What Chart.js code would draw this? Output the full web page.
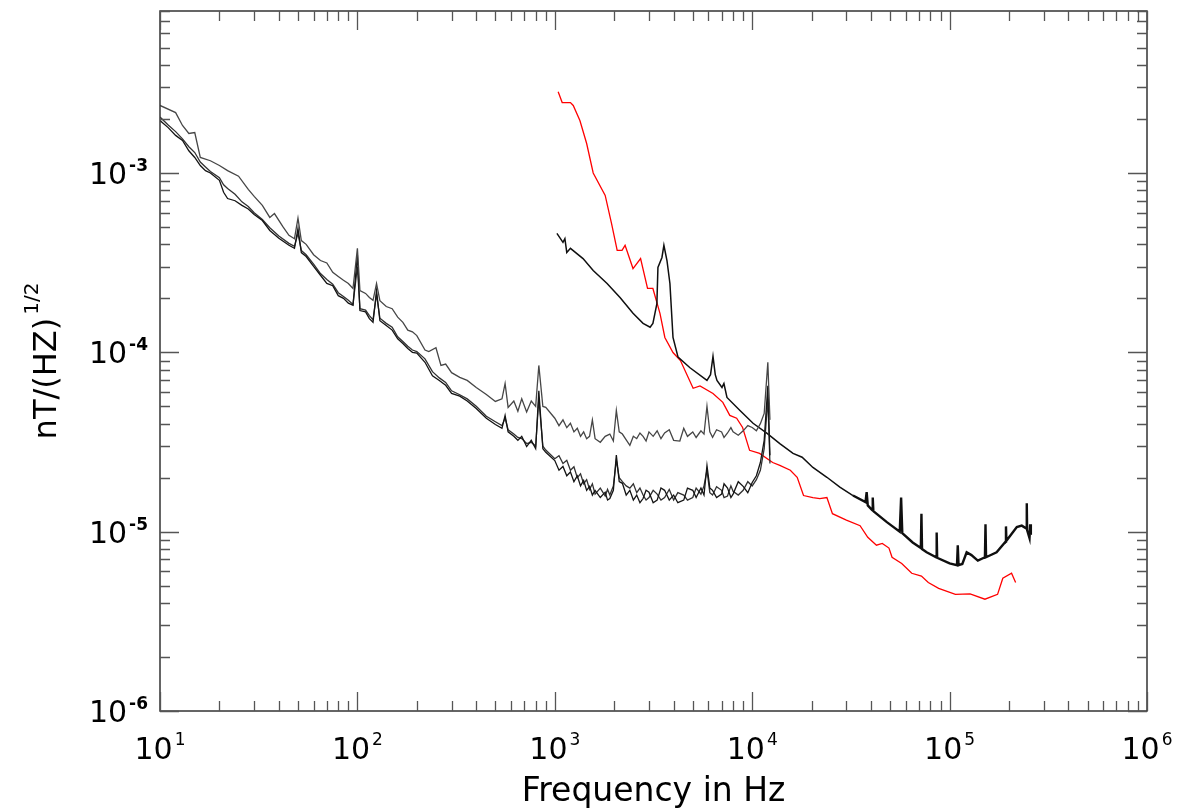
<!DOCTYPE html>
<html>
<head>
<meta charset="utf-8">
<script src="https://cdn.jsdelivr.net/npm/chart.js@4.4.1/dist/chart.umd.min.js"></script>
<style>
    html, body { margin: 0; padding: 0; background: #fff; }
</style>
</head>
<body>
<canvas id="myChart" width="1182" height="809"></canvas>
<script>
// traza superior ruidosa (10 Hz - 12 kHz)
const freqA = [10, 12, 13, 14, 15, 16, 18, 20, 22, 25, 28, 30, 33, 36, 38, 42, 45, 48, 50, 52,
    55, 60, 65, 70, 75, 80, 85, 90, 95, 100, 103, 110, 115, 120, 125, 130, 140, 150, 160, 170,
    180, 190, 200, 220, 230, 250, 265, 280, 300, 330, 360, 400, 450, 500, 540, 560, 580, 620, 650, 680,
    720, 760, 800, 830, 870, 900,
    1000, 1050, 1100, 1150, 1200, 1250, 1300, 1350, 1400, 1450, 1500, 1550, 1600, 1700, 1800, 1900, 1980, 2050, 2120, 2200,
    2300, 2400, 2500, 2600, 2700, 2800, 2900, 3000, 3150, 3300, 3450, 3600, 3800, 4000, 4300, 4500, 4700, 5000, 5200, 5500,
    5700, 5900, 6100, 6300, 6600, 7000, 7200, 7500, 7800, 8000, 8500, 9000, 9500, 10000, 10500, 11000, 11500, 12000, 12300];
const valA = [2.38e-3, 2.17e-3, 1.84e-3, 1.66e-3, 1.68e-3, 1.22e-3, 1.17e-3, 1.10e-3, 1.03e-3, 9.6e-4,
    8.1e-4, 7.4e-4, 6.6e-4, 5.65e-4, 5.94e-4, 5.0e-4, 4.49e-4, 4.3e-4, 5.6e-4, 4.2e-4,
    4.0e-4, 3.5e-4, 3.25e-4, 3.15e-4, 2.79e-4, 2.65e-4, 2.52e-4, 2.42e-4, 2.27e-4, 3.8e-4,
    2.21e-4, 2.13e-4, 2.02e-4, 1.95e-4, 2.42e-4, 1.94e-4, 1.80e-4, 1.75e-4, 1.57e-4, 1.47e-4,
    1.33e-4, 1.30e-4, 1.24e-4, 1.03e-4, 1.01e-4, 1.06e-4, 8.45e-5, 8.6e-5, 7.7e-5, 7.25e-5,
    6.97e-5, 6.37e-5, 5.82e-5, 5.32e-5, 5.5e-5, 6.7e-5, 4.93e-5, 5.35e-5, 4.69e-5, 5.5e-5,
    4.65e-5, 5.35e-5, 5.0e-5, 8.45e-5, 4.99e-5, 4.93e-5,
    4.29e-5, 3.9e-5, 4.2e-5, 3.8e-5, 4.02e-5, 3.6e-5, 3.77e-5, 3.4e-5, 3.6e-5, 3.3e-5,
    3.4e-5, 4.2e-5, 3.3e-5, 3.15e-5, 3.4e-5, 3.5e-5, 3.2e-5, 4.74e-5, 3.6e-5, 3.5e-5,
    3.25e-5, 3.03e-5, 3.4e-5, 3.3e-5, 3.55e-5, 3.4e-5, 3.2e-5, 3.6e-5, 3.4e-5, 3.65e-5,
    3.3e-5, 3.55e-5, 3.7e-5, 3.23e-5, 3.2e-5, 3.77e-5, 3.4e-5, 3.6e-5, 3.35e-5, 3.65e-5,
    3.5e-5, 5.0e-5, 3.6e-5, 3.36e-5, 3.7e-5, 3.6e-5, 3.35e-5, 3.55e-5, 3.8e-5, 3.6e-5,
    3.45e-5, 3.65e-5, 3.9e-5, 3.81e-5, 3.65e-5, 4.0e-5, 4.56e-5, 8.8e-5, 4.2e-5];

// las dos trazas inferiores ruidosas
const freqBC = [10, 11, 12, 13, 14, 15, 16, 17, 18, 20, 21, 22, 24, 26, 28, 30, 33, 36, 40, 45,
    48, 50, 52, 55, 60, 65, 70, 75, 80, 85, 90, 95, 100, 103, 110, 115, 120, 125, 130, 140,
    150, 160, 170, 180, 190, 200, 220, 240, 260, 280, 300, 330, 360, 400, 450, 500, 540, 560, 580, 620,
    650, 680, 720, 760, 800, 830, 870, 900,
    1000, 1050, 1100, 1150, 1200, 1250, 1300, 1350, 1400, 1450, 1500, 1550, 1600, 1700, 1800, 1850, 1900, 1980, 2050, 2120,
    2200, 2300, 2400, 2500, 2600, 2700, 2800, 2900, 3000, 3150, 3300, 3450, 3600, 3800, 4000, 4200, 4500, 4700, 5000, 5200,
    5500, 5700, 5900, 6100, 6300, 6600, 7000, 7200, 7500, 7800, 8000, 8500, 9000, 9500, 10000, 10500, 11000, 11500, 12000, 12300];
const valB = [1.96e-3, 1.79e-3, 1.62e-3, 1.52e-3, 1.33e-3, 1.22e-3, 1.10e-3, 1.03e-3, 1.0e-3, 9.1e-4,
    7.8e-4, 7.2e-4, 7.0e-4, 6.6e-4, 6.3e-4, 5.86e-4, 5.43e-4, 4.78e-4, 4.32e-4, 3.95e-4,
    3.8e-4, 4.9e-4, 3.6e-4, 3.42e-4, 3.01e-4, 2.69e-4, 2.42e-4, 2.35e-4, 2.07e-4, 2.0e-4,
    1.88e-4, 1.83e-4, 3.5e-4, 1.71e-4, 1.68e-4, 1.54e-4, 1.47e-4, 2.21e-4, 1.5e-4, 1.41e-4,
    1.33e-4, 1.19e-4, 1.12e-4, 1.05e-4, 1.0e-4, 9.9e-5, 8.8e-5, 7.4e-5, 6.97e-5, 6.55e-5,
    5.9e-5, 5.7e-5, 5.35e-5, 4.86e-5, 4.29e-5, 3.96e-5, 3.77e-5, 4.45e-5, 3.6e-5, 3.4e-5,
    3.23e-5, 3.4e-5, 2.98e-5, 3.23e-5, 2.9e-5, 6.1e-5, 2.9e-5, 2.77e-5,
    2.49e-5, 2.2e-5, 2.31e-5, 2.05e-5, 2.15e-5, 1.9e-5, 2.05e-5, 1.8e-5, 1.93e-5, 1.7e-5,
    1.79e-5, 1.6e-5, 1.70e-5, 1.55e-5, 1.66e-5, 1.5e-5, 1.53e-5, 1.7e-5, 2.67e-5, 1.9e-5,
    1.86e-5, 1.6e-5, 1.70e-5, 1.5e-5, 1.6e-5, 1.45e-5, 1.53e-5, 1.7e-5, 1.66e-5, 1.45e-5,
    1.50e-5, 1.75e-5, 1.70e-5, 1.5e-5, 1.6e-5, 1.45e-5, 1.5e-5, 1.75e-5, 1.7e-5, 1.55e-5,
    1.75e-5, 1.6e-5, 2.34e-5, 1.75e-5, 1.70e-5, 1.55e-5, 1.62e-5, 1.85e-5, 1.75e-5, 1.55e-5,
    1.62e-5, 1.9e-5, 1.79e-5, 1.65e-5, 1.88e-5, 2.05e-5, 2.43e-5, 3.23e-5, 6.5e-5, 2.67e-5];
const valC = [2.05e-3, 1.85e-3, 1.70e-3, 1.55e-3, 1.40e-3, 1.30e-3, 1.15e-3, 1.08e-3, 1.02e-3, 9.4e-4,
    8.6e-4, 8.2e-4, 7.6e-4, 6.9e-4, 6.5e-4, 6.0e-4, 5.5e-4, 4.95e-4, 4.45e-4, 4.05e-4,
    3.9e-4, 4.6e-4, 3.7e-4, 3.5e-4, 3.1e-4, 2.75e-4, 2.55e-4, 2.4e-4, 2.15e-4, 2.05e-4,
    1.95e-4, 1.85e-4, 3.0e-4, 1.75e-4, 1.72e-4, 1.6e-4, 1.52e-4, 2.1e-4, 1.55e-4, 1.45e-4,
    1.38e-4, 1.22e-4, 1.15e-4, 1.08e-4, 1.03e-4, 1.01e-4, 9.2e-5, 7.8e-5, 7.2e-5, 6.8e-5,
    6.1e-5, 5.8e-5, 5.5e-5, 5.0e-5, 4.4e-5, 4.1e-5, 3.9e-5, 4.3e-5, 3.7e-5, 3.5e-5,
    3.35e-5, 3.3e-5, 3.1e-5, 3.15e-5, 3.0e-5, 5.5e-5, 3.0e-5, 2.85e-5,
    2.55e-5, 2.65e-5, 2.4e-5, 2.5e-5, 2.2e-5, 2.3e-5, 2.0e-5, 2.1e-5, 1.85e-5, 1.95e-5,
    1.72e-5, 1.85e-5, 1.62e-5, 1.75e-5, 1.58e-5, 1.72e-5, 1.6e-5, 1.8e-5, 2.5e-5, 2.0e-5,
    1.9e-5, 1.8e-5, 1.75e-5, 1.85e-5, 1.65e-5, 1.75e-5, 1.6e-5, 1.5e-5, 1.55e-5, 1.7e-5,
    1.62e-5, 1.5e-5, 1.55e-5, 1.72e-5, 1.5e-5, 1.65e-5, 1.6e-5, 1.5e-5, 1.55e-5, 1.75e-5,
    1.62e-5, 1.8e-5, 2.2e-5, 1.65e-5, 1.6e-5, 1.78e-5, 1.7e-5, 1.55e-5, 1.58e-5, 1.8e-5,
    1.68e-5, 1.6e-5, 1.7e-5, 1.9e-5, 1.8e-5, 1.95e-5, 2.2e-5, 2.9e-5, 5.5e-5, 2.4e-5];

// traza negra de alta frecuencia (1 kHz - 260 kHz)
const freqD = [1025, 1100, 1125, 1150, 1200, 1390, 1565, 1840, 2140, 2490,
    2800, 3040, 3140, 3290, 3330, 3490, 3570, 3700, 3830, 3970,
    4210, 4840, 5900, 6150, 6330, 6500, 6630, 7030, 7190, 7450,
    8670, 10100, 11900, 13800, 16100, 17900, 20300, 23900, 27800, 32400,
    37500, 38000, 38500, 40500, 40800, 41100, 48100, 55900, 56800, 57600,
    65000, 71500, 72000, 72500, 76500, 85500, 86000, 86500, 100000, 109000,
    110000, 111000, 116000, 122000, 129000, 139000, 151000, 152000, 153000, 173000,
    192000, 193000, 194000, 219000, 232000, 245000, 246000, 247000, 254000, 256000,
    258000];
const valD = [4.6e-4, 4.1e-4, 4.3e-4, 3.6e-4, 3.8e-4, 3.33e-4, 2.86e-4, 2.42e-4, 2.02e-4, 1.65e-4,
    1.45e-4, 1.38e-4, 1.45e-4, 1.87e-4, 2.97e-4, 3.38e-4, 3.95e-4, 3.25e-4, 2.42e-4, 1.21e-4,
    9.4e-5, 8.2e-5, 6.97e-5, 7.5e-5, 9.5e-5, 7.5e-5, 6.97e-5, 6.37e-5, 6.7e-5, 5.6e-5,
    4.74e-5, 4.02e-5, 3.53e-5, 3.1e-5, 2.73e-5, 2.6e-5, 2.28e-5, 2.01e-5, 1.77e-5, 1.59e-5,
    1.46e-5, 1.66e-5, 1.40e-5, 1.32e-5, 1.55e-5, 1.3e-5, 1.13e-5, 1.0e-5, 1.55e-5, 9.8e-6,
    8.7e-6, 8.1e-6, 1.26e-5, 8.0e-6, 7.67e-6, 7.2e-6, 9.9e-6, 7.15e-6, 6.65e-6, 6.5e-6,
    8.4e-6, 6.5e-6, 6.6e-6, 7.67e-6, 7.4e-6, 6.9e-6, 7.2e-6, 1.1e-5, 7.2e-6, 7.67e-6,
    8.8e-6, 1.07e-5, 8.9e-6, 1.06e-5, 1.08e-5, 1.04e-5, 1.44e-5, 1.02e-5, 9.2e-6, 1.1e-5,
    9.6e-6];

// traza roja
const freqE = [1040, 1090, 1200, 1240, 1340, 1450, 1565, 1800, 1940, 2070,
    2190, 2270, 2490, 2720, 2950, 3140, 3410, 3610, 3970, 4330,
    5020, 5440, 6330, 7100, 7700, 8340, 8940, 9700, 10900, 12700,
    13800, 15600, 16900, 18200, 20300, 22000, 23900, 25500, 30000, 35200,
    38500, 42600, 45600, 49300, 51100, 57200, 64300, 72000, 78000, 88000,
    107000, 127000, 151000, 175000, 186000, 206000, 216000];
const valE = [2.84e-3, 2.47e-3, 2.47e-3, 2.38e-3, 1.96e-3, 1.46e-3, 1.0e-3, 7.5e-4, 5.2e-4, 3.7e-4,
    3.7e-4, 3.95e-4, 2.93e-4, 3.33e-4, 2.27e-4, 2.27e-4, 1.65e-4, 1.21e-4, 9.97e-5, 9.0e-5,
    6.3e-5, 6.5e-5, 5.9e-5, 5.26e-5, 4.45e-5, 4.29e-5, 3.81e-5, 2.84e-5, 2.73e-5, 2.43e-5,
    2.34e-5, 2.2e-5, 2.01e-5, 1.59e-5, 1.55e-5, 1.53e-5, 1.55e-5, 1.26e-5, 1.16e-5, 1.08e-5,
    9.3e-6, 8.4e-6, 8.6e-6, 8.1e-6, 7.2e-6, 6.65e-6, 5.86e-6, 5.65e-6, 5.2e-6, 4.83e-6,
    4.47e-6, 4.5e-6, 4.2e-6, 4.47e-6, 5.5e-6, 5.86e-6, 5.2e-6];

// ejes
const xMajor = [1e1, 1e2, 1e3, 1e4, 1e5, 1e6];
const xExp = ['1', '2', '3', '4', '5', '6'];
const yMajor = [1e-6, 1e-5, 1e-4, 1e-3];
const yExp = ['-6', '-5', '-4', '-3'];
const xTitle = 'Frequency in Hz';
const yTitle = 'nT/(HZ)';
const yTitleSup = '1/2';

window.onload = main;

function main() {
    dibujar();
}

function puntos(fs, vs) {
    return fs.map((f, i) => ({ x: f, y: vs[i] }));
}

const marcoIDL = {
    id: 'marcoIDL',
    afterDraw(chart) {
        const ctx = chart.ctx;
        const a = chart.chartArea;
        const sx = chart.scales.x;
        const sy = chart.scales.y;
        ctx.save();

        // marco
        ctx.strokeStyle = '#333';
        ctx.lineWidth = 1.5;
        ctx.strokeRect(a.left, a.top, a.right - a.left, a.bottom - a.top);

        // marcas del eje x (abajo y arriba)
        ctx.strokeStyle = '#555';
        ctx.lineWidth = 1.3;
        for (let d = 1; d <= 6; d++) {
            for (let m = 1; m <= 9; m++) {
                const v = m * Math.pow(10, d);
                if (v > sx.max * 1.0001) break;
                const px = Math.round(sx.getPixelForValue(v)) + 0.5;
                const len = m === 1 ? 19 : 10;
                ctx.beginPath();
                ctx.moveTo(px, a.bottom); ctx.lineTo(px, a.bottom - len);
                ctx.moveTo(px, a.top); ctx.lineTo(px, a.top + len);
                ctx.stroke();
            }
        }
        // marcas del eje y (izquierda y derecha)
        for (let d = -6; d <= -3; d++) {
            for (let m = 1; m <= 9; m++) {
                const v = m * Math.pow(10, d);
                if (v > sy.max * 1.0001) break;
                const py = Math.round(sy.getPixelForValue(v)) + 0.5;
                const len = m === 1 ? 19 : 10;
                ctx.beginPath();
                ctx.moveTo(a.left, py); ctx.lineTo(a.left + len, py);
                ctx.moveTo(a.right, py); ctx.lineTo(a.right - len, py);
                ctx.stroke();
            }
        }

        ctx.fillStyle = '#000';
        ctx.textBaseline = 'alphabetic';
        ctx.textAlign = 'left';
        const fBase = '30px "DejaVu Sans"';
        const fExpX = '17px "DejaVu Sans"';
        const fExpY = 'bold 17px "DejaVu Sans"';

        // etiquetas x
        xMajor.forEach((v, i) => {
            const px = sx.getPixelForValue(v);
            ctx.font = fBase;
            const wb = ctx.measureText('10').width;
            ctx.font = fExpX;
            const we = ctx.measureText(xExp[i]).width;
            const x0 = px - (wb + 2 + we) / 2;
            ctx.font = fBase;
            ctx.fillText('10', x0, 759);
            ctx.font = fExpX;
            ctx.fillText(xExp[i], x0 + wb + 2, 745);
        });

        // etiquetas y
        yMajor.forEach((v, i) => {
            const py = sy.getPixelForValue(v);
            ctx.font = fBase;
            const wb = ctx.measureText('10').width;
            ctx.font = fExpY;
            const we = ctx.measureText(yExp[i]).width;
            const x0 = a.left - 12 - (wb + 2 + we);
            ctx.font = fBase;
            ctx.fillText('10', x0, py + 11);
            ctx.font = fExpY;
            ctx.fillText(yExp[i], x0 + wb + 2, py - 2);
        });

        // titulo x
        ctx.font = '33px "DejaVu Sans"';
        ctx.textAlign = 'center';
        ctx.fillText(xTitle, (a.left + a.right) / 2, 801);

        // titulo y
        ctx.save();
        ctx.translate(56, (a.top + a.bottom) / 2);
        ctx.rotate(-Math.PI / 2);
        ctx.textAlign = 'left';
        ctx.font = '32px "DejaVu Sans"';
        const wm = ctx.measureText(yTitle).width;
        ctx.font = '20px "DejaVu Sans"';
        const ws = ctx.measureText(yTitleSup).width;
        const t0 = -(wm + 3 + ws) / 2;
        ctx.font = '32px "DejaVu Sans"';
        ctx.fillText(yTitle, t0, 0);
        ctx.font = '20px "DejaVu Sans"';
        ctx.fillText(yTitleSup, t0 + wm + 3, -18);
        ctx.restore();

        ctx.restore();
    }
};

function dibujar() {
    const ctx = document.getElementById('myChart').getContext('2d');
    const myChart = new Chart(ctx, {
        type: 'line',
        data: {
            datasets: [{
                label: 'A',
                data: puntos(freqA, valA),
                borderColor: 'rgba(70, 70, 70, 1)',
                borderWidth: 1.3
            }, {
                label: 'B',
                data: puntos(freqBC, valB),
                borderColor: 'rgba(20, 20, 20, 1)',
                borderWidth: 1.3
            }, {
                label: 'C',
                data: puntos(freqBC, valC),
                borderColor: 'rgba(50, 50, 50, 1)',
                borderWidth: 1.3
            }, {
                label: 'D',
                data: puntos(freqD, valD),
                borderColor: 'rgba(15, 15, 15, 1)',
                borderWidth: 1.5,
                // la cola ruidosa se ve mas gruesa
                segment: {
                    borderWidth: c => c.p0.parsed.x > 30000 ? 2.4 : 1.5
                }
            }, {
                label: 'E',
                data: puntos(freqE, valE),
                borderColor: 'rgba(255, 0, 0, 1)',
                borderWidth: 1.3
            }]
        },
        options: {
            responsive: false,
            animation: false,
            devicePixelRatio: 1,
            layout: { padding: { top: 11, right: 35, left: 0, bottom: 0 } },
            plugins: {
                legend: { display: false },
                tooltip: { enabled: false }
            },
            elements: {
                point: { radius: 0 },
                line: { tension: 0 }
            },
            scales: {
                x: {
                    type: 'logarithmic',
                    min: 10,
                    max: 1e6,
                    grid: { display: false },
                    border: { display: false },
                    ticks: { display: false },
                    afterFit: s => { s.height = 98; }
                },
                y: {
                    type: 'logarithmic',
                    min: 1e-6,
                    max: 8e-3,
                    grid: { display: false },
                    border: { display: false },
                    ticks: { display: false },
                    afterFit: s => { s.width = 160; }
                }
            }
        },
        plugins: [marcoIDL]
    });
}
</script>
</body>
</html>
